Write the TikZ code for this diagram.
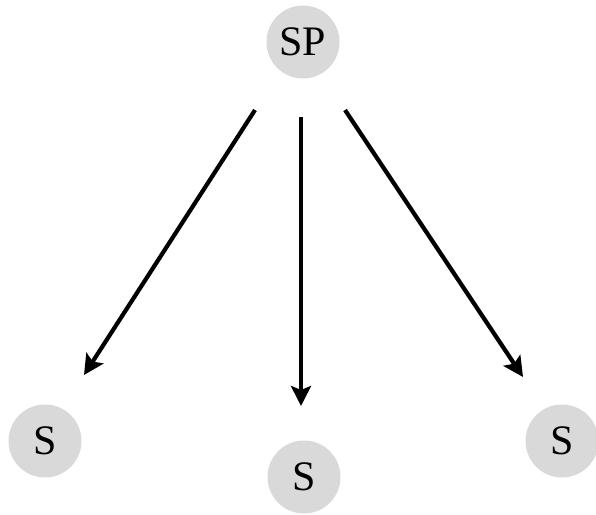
\documentclass[tikz,border=0pt]{standalone}
\usepackage{fontspec}
\setmainfont{Liberation Serif}
\usetikzlibrary{arrows.meta}
\begin{document}
\begin{tikzpicture}[x=1pt,y=-1pt,
  st/.style={circle,fill={rgb,255:red,217;green,217;blue,217},minimum size=73pt,inner sep=0pt,font=\fontsize{42}{42}\selectfont},
  conn/.style={line width=4.2pt,-{Stealth[length=20pt,width=20pt,inset=4pt]}}]
\useasboundingbox (0,0) rectangle (596,514);
\node[st] (sp) at (303,42) {SP};
\node[st] (s1) at (45,441) {S};
\node[st] (s2) at (304,477) {S};
\node[st] (s3) at (562,441) {S};
\coordinate (a1) at (255,110);
\coordinate (b1) at (84,375);
\coordinate (a2) at (301,117);
\coordinate (b2) at (301,406);
\coordinate (a3) at (345,110);
\coordinate (b3) at (523,377);
\draw[conn] (a1) -- (b1);
\draw[conn] (a2) -- (b2);
\draw[conn] (a3) -- (b3);
\end{tikzpicture}
\end{document}
